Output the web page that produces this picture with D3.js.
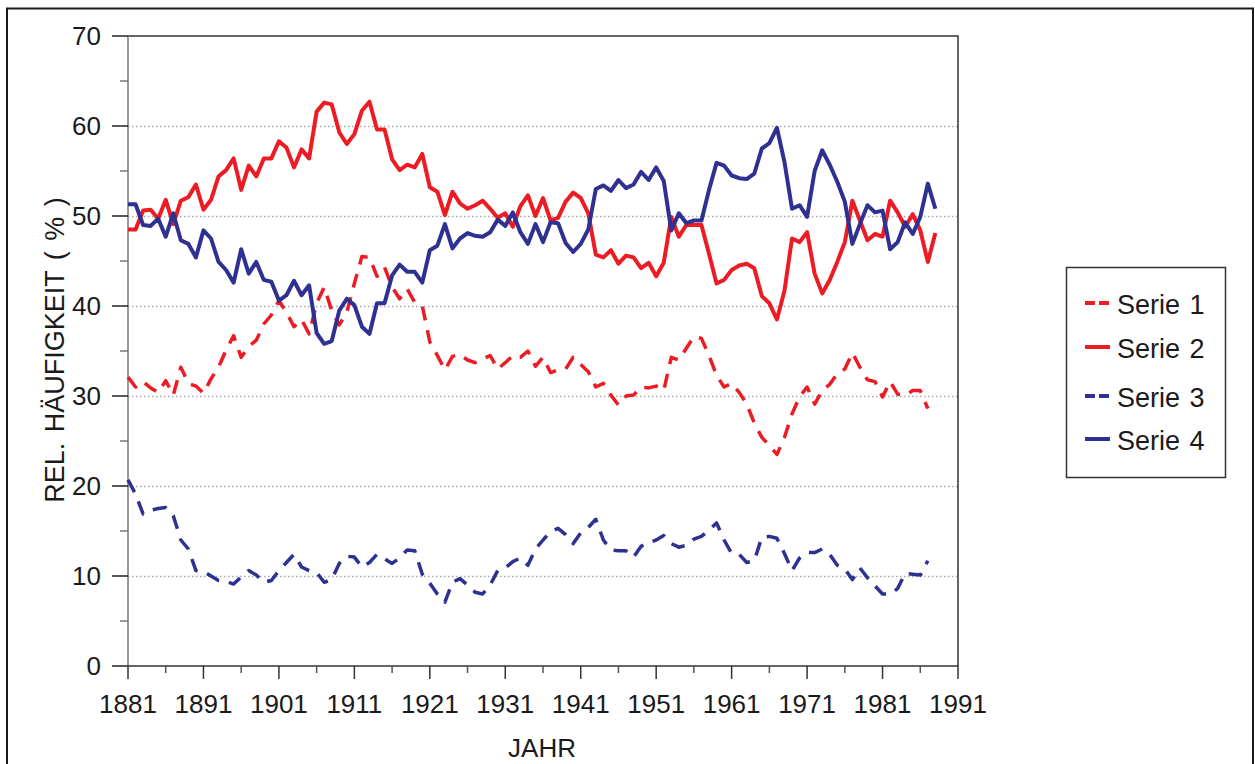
<!DOCTYPE html>
<html>
<head>
<meta charset="utf-8">
<script src="https://cdn.jsdelivr.net/npm/d3@7"></script>
<style>
  body { margin: 0; background: #fff; }
  text { font-family: "Liberation Sans", Arial, sans-serif; fill: #1a1a1a; }
</style>
</head>
<body>
<div id="chart"></div>
<script>
var firstYear = 1881;
var seriesNames = ['Serie 1', 'Serie 2', 'Serie 3', 'Serie 4'];
var xTickLabels = ['1881', '1891', '1901', '1911', '1921', '1931', '1941', '1951', '1961', '1971', '1981', '1991'];
var yTickLabels = ['0', '10', '20', '30', '40', '50', '60', '70'];

// yearly values, first value = 1881
var serie1 = [32.1, 31.0, 31.6, 30.9, 30.4, 31.7, 30.1, 33.2, 31.4, 31.1,
  30.3, 31.9, 33.2, 35.1, 36.7, 34.3, 35.5, 36.2, 38.0, 39.0,
  40.6, 39.3, 37.7, 38.5, 36.9, 40.3, 42.1, 39.5, 37.9, 39.3,
  42.5, 45.5, 45.4, 43.3, 44.3, 42.1, 40.8, 41.9, 40.4, 40.0,
  36.0, 34.5, 32.9, 34.4, 34.6, 34.0, 33.7, 34.1, 34.5, 33.0,
  33.7, 34.5, 34.3, 35.0, 33.3, 34.3, 32.6, 32.9, 33.0, 34.3,
  33.5, 32.7, 31.0, 31.4, 30.1, 29.0, 30.0, 30.1, 31.0, 30.9,
  31.1, 30.6, 34.3, 34.0, 35.3, 36.6, 36.4, 34.5, 32.3, 31.0,
  31.4, 30.4, 29.1, 27.0, 25.4, 24.5, 23.5, 25.4, 28.0, 29.9,
  31.0, 29.1, 30.6, 31.3, 32.5, 33.0, 34.8, 33.2, 31.8, 31.6,
  29.9, 31.6, 30.2, 30.1, 30.6, 30.6, 28.6];
var serie2 = [48.5, 48.5, 50.6, 50.7, 49.7, 51.8, 49.1, 51.7, 52.1, 53.5,
  50.7, 51.8, 54.4, 55.1, 56.4, 52.9, 55.6, 54.4, 56.4, 56.4,
  58.3, 57.6, 55.4, 57.4, 56.4, 61.6, 62.6, 62.4, 59.3, 58.0,
  59.1, 61.7, 62.7, 59.6, 59.6, 56.3, 55.1, 55.7, 55.4, 56.9,
  53.2, 52.7, 50.1, 52.7, 51.4, 50.8, 51.2, 51.7, 50.8, 49.8,
  50.3, 48.8, 51.1, 52.3, 50.0, 52.0, 49.5, 49.8, 51.6, 52.6,
  52.0, 50.3, 45.7, 45.4, 46.2, 44.7, 45.6, 45.4, 44.2, 44.8,
  43.3, 44.8, 49.9, 47.7, 49.0, 49.0, 49.0, 45.8, 42.5, 42.9,
  44.0, 44.5, 44.7, 44.2, 41.1, 40.3, 38.5, 41.7, 47.5, 47.1,
  48.2, 43.6, 41.4, 42.9, 44.9, 47.1, 51.7, 49.5, 47.3, 48.0,
  47.7, 51.7, 50.4, 48.8, 50.2, 48.4, 44.9, 48.1];
var serie3 = [20.7, 19.1, 16.9, 17.3, 17.5, 17.6, 16.7, 14.0, 13.0, 10.6,
  10.5, 10.0, 9.5, 9.4, 9.1, 9.9, 10.6, 10.1, 9.3, 9.5,
  10.6, 11.5, 12.4, 11.0, 10.6, 10.4, 9.3, 9.6, 11.4, 12.2,
  12.1, 11.0, 11.5, 12.4, 11.9, 11.4, 12.0, 12.9, 12.8, 10.2,
  9.2, 8.0, 7.1, 9.3, 9.7, 9.0, 8.2, 8.0, 9.0, 10.6,
  10.9, 11.6, 12.0, 11.2, 13.0, 14.0, 14.9, 15.3, 14.6, 13.6,
  14.8, 15.4, 16.3, 14.0, 12.9, 12.8, 12.8, 12.1, 13.3, 13.7,
  14.0, 14.5, 13.6, 13.2, 13.4, 14.1, 14.4, 15.1, 15.9, 14.0,
  12.5, 12.4, 11.5, 11.7, 14.3, 14.4, 14.2, 12.5, 10.6, 12.0,
  12.6, 12.6, 13.0, 12.4, 11.2, 10.8, 9.6, 10.9, 9.8, 8.9,
  8.0, 8.0, 8.6, 10.3, 10.2, 10.1, 11.7];
var serie4 = [51.3, 51.3, 49.0, 48.9, 49.7, 47.7, 50.3, 47.3, 46.9, 45.4,
  48.4, 47.5, 44.9, 44.0, 42.6, 46.3, 43.6, 44.9, 42.9, 42.7,
  40.6, 41.2, 42.8, 41.2, 42.3, 37.0, 35.8, 36.1, 39.5, 40.8,
  40.1, 37.7, 36.9, 40.3, 40.3, 43.4, 44.6, 43.8, 43.8, 42.6,
  46.2, 46.7, 49.1, 46.4, 47.5, 48.1, 47.8, 47.7, 48.2, 49.6,
  48.9, 50.4, 48.2, 46.9, 49.1, 47.1, 49.3, 49.2, 47.0, 46.0,
  46.9, 48.5, 53.0, 53.4, 52.8, 54.0, 53.1, 53.5, 54.9, 54.0,
  55.4, 53.9, 48.4, 50.3, 49.2, 49.5, 49.5, 52.9, 55.9, 55.6,
  54.5, 54.2, 54.1, 54.7, 57.5, 58.1, 59.8, 56.0, 50.8, 51.2,
  49.9, 55.0, 57.3, 55.7, 53.8, 51.6, 46.9, 49.1, 51.2, 50.4,
  50.6, 46.3, 47.1, 49.3, 48.0, 49.9, 53.6, 50.8];

var width = 1255, height = 764;
var red = '#ed1c24', blue = '#2e3192';
var series = [
  {name: seriesNames[0], values: serie1, color: red, dash: '14,10'},
  {name: seriesNames[1], values: serie2, color: red, dash: null},
  {name: seriesNames[2], values: serie3, color: blue, dash: '14,10'},
  {name: seriesNames[3], values: serie4, color: blue, dash: null}
];

var x = d3.scaleLinear().domain([1881, 1991]).range([128, 958]);
var y = d3.scaleLinear().domain([0, 70]).range([666, 36]);

var svg = d3.select('#chart').append('svg')
  .attr('width', width)
  .attr('height', height);

svg.append('rect').attr('width', width).attr('height', height).attr('fill', '#fff');

// outer frame
svg.append('rect')
  .attr('x', 7).attr('y', 8.5)
  .attr('width', 1246).attr('height', 800)
  .attr('fill', 'none').attr('stroke', '#1a1a1a').attr('stroke-width', 2);

// grid
svg.append('g').selectAll('line')
  .data(d3.range(10, 70, 10)).enter()
  .append('line')
    .attr('x1', x(1881)).attr('x2', x(1991))
    .attr('y1', function(d) {return Math.round(y(d)) + 0.5;})
    .attr('y2', function(d) {return Math.round(y(d)) + 0.5;})
    .attr('stroke', '#aaa')
    .attr('stroke-width', 1.5)
    .attr('stroke-dasharray', '1.5,2.5');

// top and right border of plot
svg.append('path')
  .attr('d', 'M' + x(1881) + ',' + y(70) + 'H' + x(1991) + 'V' + y(0))
  .attr('fill', 'none').attr('stroke', '#333').attr('stroke-width', 1.5);

// y axis
var yAxis = svg.append('g');
yAxis.append('line')
  .attr('x1', x(1881)).attr('x2', x(1881)).attr('y1', y(70)).attr('y2', y(0))
  .attr('stroke', '#777').attr('stroke-width', 1.5);
yAxis.selectAll('.minor')
  .data(d3.range(5, 70, 10)).enter()
  .append('line')
    .attr('x1', x(1881) - 8).attr('x2', x(1881))
    .attr('y1', function(d) {return y(d);}).attr('y2', function(d) {return y(d);})
    .attr('stroke', '#777').attr('stroke-width', 1.5);
yAxis.selectAll('.major')
  .data(yTickLabels).enter()
  .append('line')
    .attr('x1', x(1881) - 16).attr('x2', x(1881))
    .attr('y1', function(d) {return y(+d);}).attr('y2', function(d) {return y(+d);})
    .attr('stroke', '#222').attr('stroke-width', 1.5);
yAxis.selectAll('text')
  .data(yTickLabels).enter()
  .append('text')
    .attr('x', 101)
    .attr('y', function(d) {return y(+d) + 9;})
    .attr('text-anchor', 'end')
    .attr('font-size', 26)
    .text(function(d) {return d;});

// x axis
var xAxis = svg.append('g');
xAxis.append('line')
  .attr('x1', x(1881)).attr('x2', x(1991)).attr('y1', y(0)).attr('y2', y(0))
  .attr('stroke', '#333').attr('stroke-width', 1.5);
xAxis.selectAll('.minor')
  .data(d3.range(1886, 1991, 10)).enter()
  .append('line')
    .attr('x1', function(d) {return x(d);}).attr('x2', function(d) {return x(d);})
    .attr('y1', y(0)).attr('y2', y(0) + 7)
    .attr('stroke', '#555').attr('stroke-width', 1.5);
xAxis.selectAll('.major')
  .data(xTickLabels).enter()
  .append('line')
    .attr('x1', function(d) {return x(+d);}).attr('x2', function(d) {return x(+d);})
    .attr('y1', y(0)).attr('y2', y(0) + 13)
    .attr('stroke', '#333').attr('stroke-width', 1.5);
xAxis.selectAll('text')
  .data(xTickLabels).enter()
  .append('text')
    .attr('x', function(d) {return x(+d);})
    .attr('y', 713)
    .attr('text-anchor', 'middle')
    .attr('font-size', 26)
    .text(function(d) {return d;});

// axis titles
svg.append('text')
  .attr('transform', 'translate(64,350) rotate(-90)')
  .attr('text-anchor', 'middle')
  .attr('font-size', 27)
  .attr('word-spacing', 3)
  .text('REL. HÄUFIGKEIT ( % )');
svg.append('text')
  .attr('x', 542).attr('y', 757)
  .attr('text-anchor', 'middle')
  .attr('font-size', 26)
  .text('JAHR');

// lines
var line = d3.line()
  .x(function(d, i) {return x(firstYear + i);})
  .y(function(d) {return y(d);});

svg.append('g').selectAll('path')
  .data(series).enter()
  .append('path')
    .attr('d', function(d) {return line(d.values);})
    .attr('fill', 'none')
    .attr('stroke', function(d) {return d.color;})
    .attr('stroke-width', function(d) {return d.dash ? 3.5 : 4;})
    .attr('stroke-linejoin', 'round')
    .attr('stroke-dasharray', function(d) {return d.dash;});

// legend
var legend = svg.append('g');
legend.append('rect')
  .attr('x', 1066.5).attr('y', 267.5).attr('width', 159).attr('height', 210)
  .attr('fill', '#fff').attr('stroke', '#333').attr('stroke-width', 1.5);
var legendRows = [303, 347, 396, 439];
var item = legend.selectAll('.item')
  .data(series).enter()
  .append('g')
    .attr('transform', function(d, i) {return 'translate(0,' + legendRows[i] + ')';});
item.append('line')
  .attr('x1', 1085).attr('x2', 1110)
  .attr('stroke', function(d) {return d.color;})
  .attr('stroke-width', 4)
  .attr('stroke-dasharray', function(d) {return d.dash ? '10,4' : null;});
item.append('text')
  .attr('x', 1117).attr('y', 11)
  .attr('font-size', 27)
  .attr('word-spacing', 2)
  .text(function(d) {return d.name;});
</script>
</body>
</html>
